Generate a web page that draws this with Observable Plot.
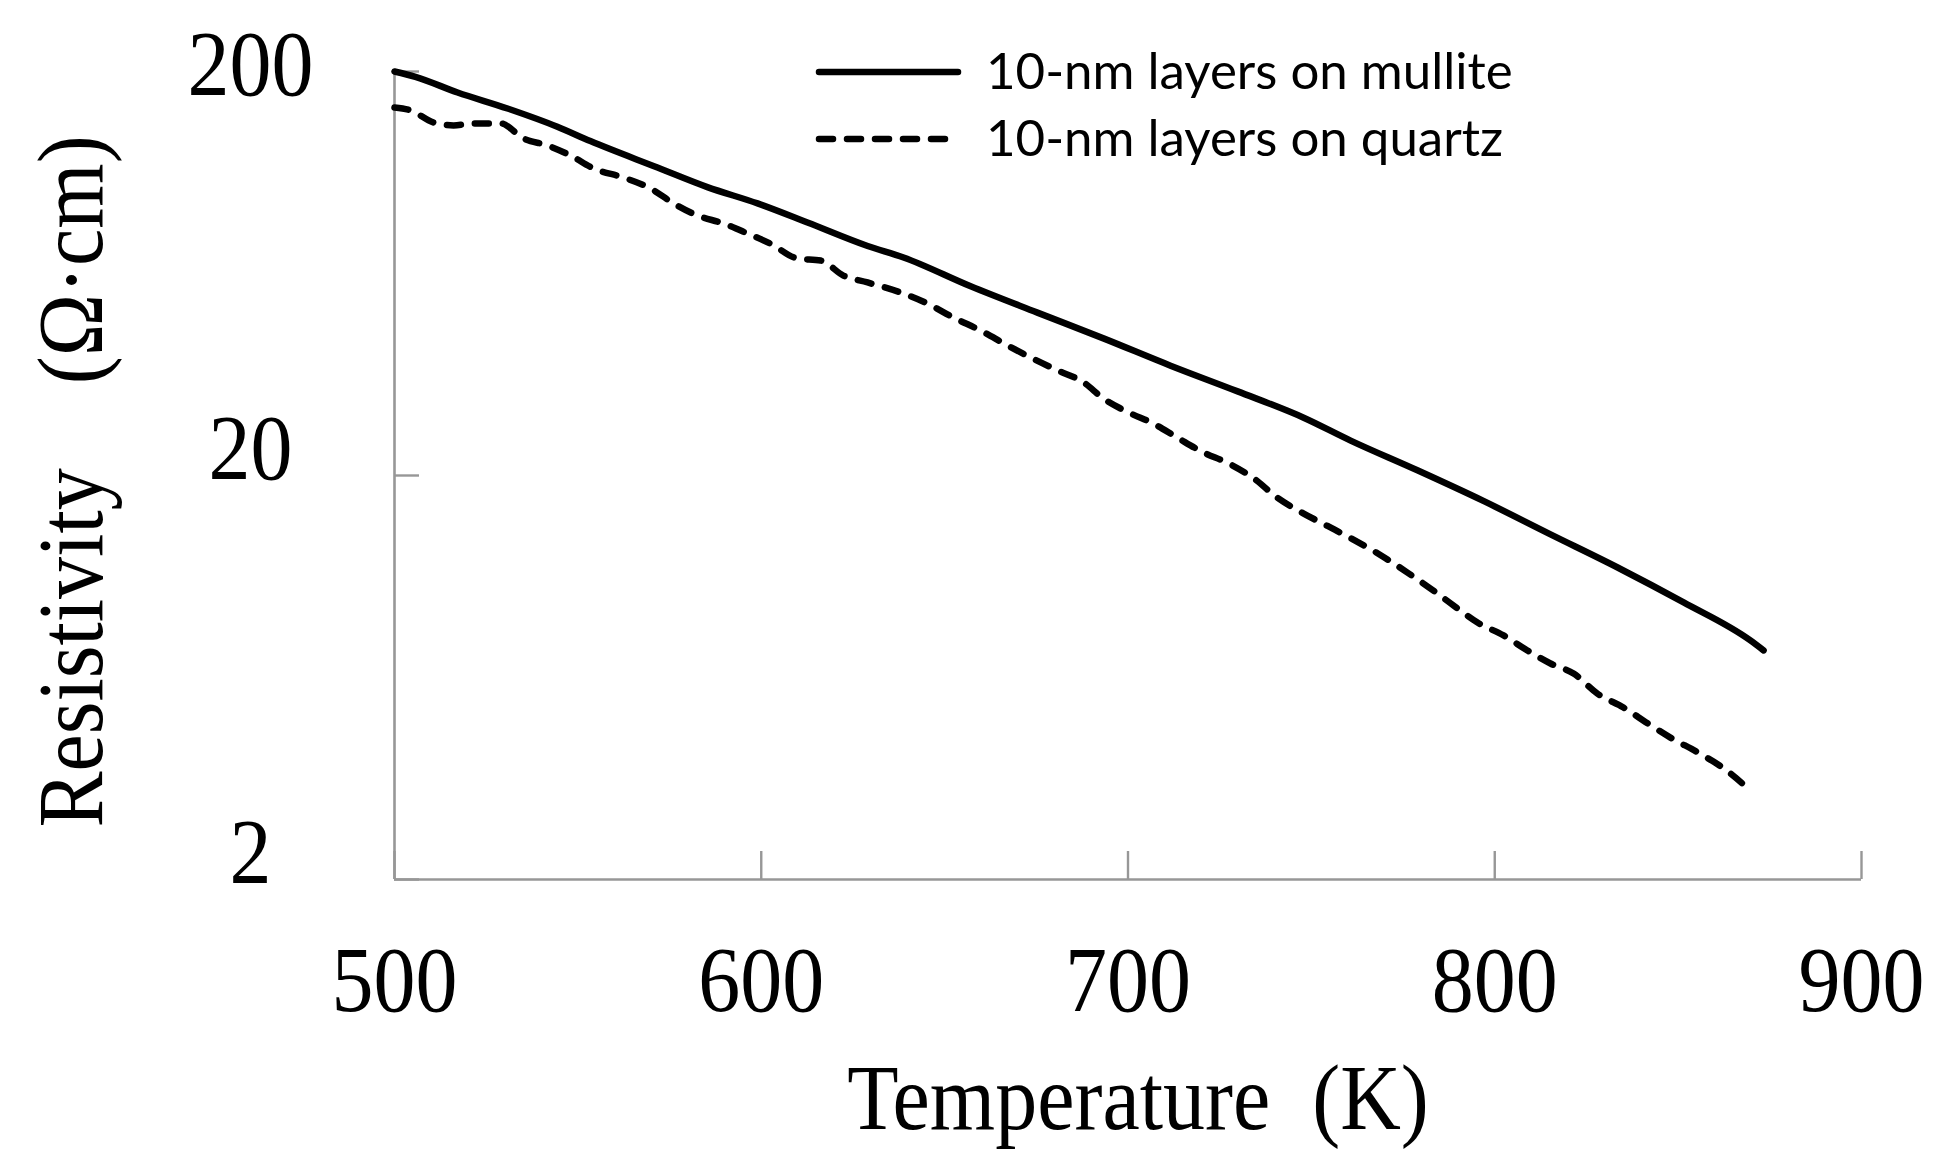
<!DOCTYPE html>
<html>
<head>
<meta charset="utf-8">
<script src="https://cdn.jsdelivr.net/npm/d3@7"></script>
<script src="https://cdn.jsdelivr.net/npm/@observablehq/plot@0.6"></script>
<style>
  html, body { margin: 0; padding: 0; background: #fff; }
</style>
</head>
<body>
<div id="chart"></div>
<script>
// ---- data ----
const mulliteT = [500, 505.7, 517.2, 530.8, 544.4, 553.4, 571.7, 585.3, 599.0, 612.6, 629.0, 638.8, 657.1, 675.3, 693.3, 711.6, 729.9, 747.9, 760.7, 778.9, 796.9, 815.2, 833.5, 851.5, 869.7, 873.3];
const mulliteR = [200, 194, 177.4, 162, 146, 134.5, 115.7, 103.5, 94.3, 84.6, 74.0, 69.3, 58.8, 50.6, 43.7, 37.4, 32.3, 27.8, 24.4, 20.6, 17.3, 14.3, 11.84, 9.70, 7.81, 7.38];

const quartzT = [500, 504.4, 510.6, 516.1, 521.5, 528.9, 535.2, 541.7, 548.0, 554.3, 562.4, 569.8, 576.1, 582.6, 589.7, 596.3, 602.5, 609.9, 616.2, 622.4, 629.0, 638.8, 645.3, 652.4, 659.8, 667.1, 673.4, 680.8, 687.9, 693.3, 700.7, 706.9, 713.5, 720.6, 727.1, 734.2, 740.8, 747.9, 754.4, 760.7, 768.9, 776.2, 782.5, 788.8, 795.3, 802.4, 808.9, 815.2, 821.5, 828.0, 835.1, 841.7, 847.9, 855.3, 862.4, 869.7];
const quartzR = [162.9, 160.2, 149.6, 147.1, 148.8, 148.8, 136.5, 131.2, 123.9, 115.1, 109.3, 102.7, 94.3, 88.0, 84.1, 79.4, 75.0, 68.9, 68.1, 62.5, 60.1, 56.4, 53.3, 49.2, 45.7, 42.0, 39.2, 36.4, 34.0, 31.0, 28.5, 26.9, 24.8, 22.8, 21.5, 19.7, 17.6, 16.1, 15.0, 14.0, 12.7, 11.5, 10.5, 9.53, 8.65, 8.04, 7.38, 6.85, 6.47, 5.77, 5.33, 4.87, 4.49, 4.13, 3.77, 3.32];

const xTicks = [500, 600, 700, 800, 900];
const xTickLabels = ["500", "600", "700", "800", "900"];
const yTicks = [2, 20, 200];
const yTickLabels = ["2", "20", "200"];
const seriesNames = ["10-nm layers on mullite", "10-nm layers on quartz"];
const xTitle = "Temperature\u00a0\u00a0(K)";
const yTitle = "Resistivity\u00a0\u00a0\u00a0\u00a0(\u03A9\u00b7cm)";

const mullite = mulliteT.map((t, i) => ({T: t, R: mulliteR[i]}));
const quartz = quartzT.map((t, i) => ({T: t, R: quartzR[i]}));

const W = 1935, H = 1168;
const mL = 394, mR = 74, mT = 71, mB = 289;
const axisGray = "#979797";
const serif = "'Liberation Serif', 'Times New Roman', serif";
const yLabel = d => yTickLabels[yTicks.indexOf(d)];

const chart = Plot.plot({
  width: W,
  height: H,
  marginLeft: mL,
  marginRight: mR,
  marginTop: mT,
  marginBottom: mB,
  style: {fontFamily: serif, color: "#000", background: "#fff", overflow: "visible"},
  x: {type: "linear", domain: [500, 900]},
  y: {type: "log", domain: [2, 200]},
  marks: [
    // axis lines
    Plot.ruleX([500], {stroke: axisGray, strokeWidth: 2.6}),
    Plot.ruleY([2], {stroke: axisGray, strokeWidth: 2.6}),
    // inward ticks
    Plot.tickX(xTicks, {x: d => d, stroke: axisGray, strokeWidth: 2.4, insetTop: (H - mT - mB) - 28}),
    Plot.tickY(yTicks, {y: d => d, stroke: axisGray, strokeWidth: 2.4, insetRight: (W - mL - mR) - 25}),
    // tick labels
    Plot.axisX({ticks: xTicks, tickFormat: d => xTickLabels[xTicks.indexOf(d)], tickSize: 0, tickPadding: 66, fontSize: 84, label: null, fill: "#000"}),
    Plot.axisY({ticks: yTicks.filter(d => d >= 200), tickFormat: yLabel, tickSize: 0, tickPadding: 144, textAnchor: "middle", fontSize: 84, label: null, dy: -6, fill: "#000"}),
    Plot.axisY({ticks: yTicks.filter(d => d < 200), tickFormat: yLabel, tickSize: 0, tickPadding: 144, textAnchor: "middle", fontSize: 84, label: null, dy: -26, fill: "#000"}),
    // axis titles
    Plot.text([xTitle], {frameAnchor: "bottom", text: d => d, textAnchor: "middle", dx: 10, dy: 220, lineAnchor: "middle", fontSize: 84, fill: "#000"}),
    Plot.text([yTitle], {frameAnchor: "left", text: d => d, textAnchor: "middle", rotate: -90, dx: -322, dy: 6, lineAnchor: "middle", fontSize: 84, fill: "#000"}),
    // data
    Plot.line(mullite, {x: "T", y: "R", curve: "monotone-x", stroke: "#000", strokeWidth: 6.5, strokeLinecap: "round", strokeLinejoin: "round"}),
    Plot.line(quartz, {x: "T", y: "R", curve: "monotone-x", stroke: "#000", strokeWidth: 6.5, strokeDasharray: "14,14", strokeLinecap: "round", strokeLinejoin: "round"})
  ]
});

// the reference serif glyphs are slightly taller than Liberation Serif: stretch vertically
d3.select(chart).selectAll("text").each(function() {
  const t = this.getAttribute("transform");
  if (t && t.includes("translate")) this.setAttribute("transform", t + " scale(1,1.1)");
});

// legend (inside the plot, upper right)
const svg = d3.select(chart);
const leg = svg.append("g").attr("class", "legend");
const legendRows = [
  {name: seriesNames[0], y: 72, dash: null},
  {name: seriesNames[1], y: 139, dash: "14,14"}
];
legendRows.forEach(r => {
  leg.append("line")
    .attr("x1", 819).attr("x2", 958)
    .attr("y1", r.y).attr("y2", r.y)
    .attr("stroke", "#000").attr("stroke-width", 6.5)
    .attr("stroke-linecap", "round")
    .attr("stroke-dasharray", r.dash);
  leg.append("text")
    .attr("x", 986).attr("y", r.y + 17)
    .attr("text-anchor", "start")
    .attr("font-family", "Lato, 'Noto Sans', sans-serif")
    .attr("font-size", 51)
    .attr("fill", "#000")
    .text(r.name);
});

document.getElementById("chart").appendChild(chart);
</script>
</body>
</html>
